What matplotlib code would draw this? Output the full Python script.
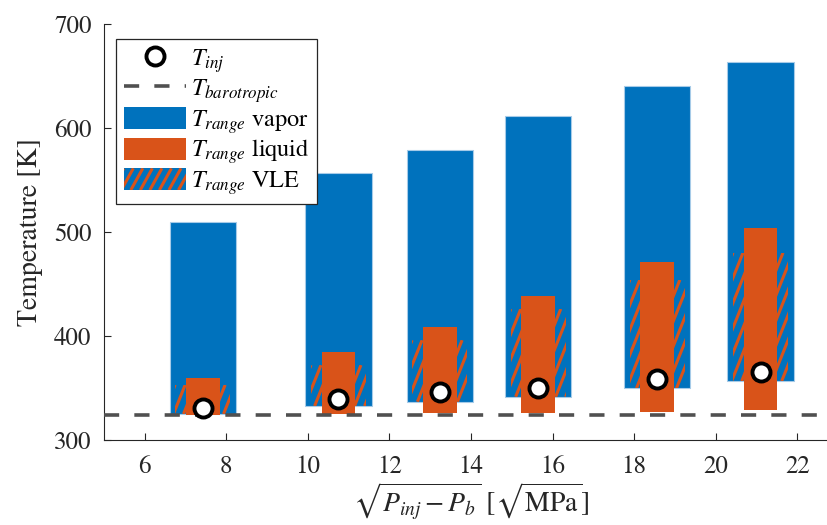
import numpy as np
import matplotlib
matplotlib.use("Agg")
import matplotlib.pyplot as plt
from matplotlib.patches import Rectangle, Patch
from matplotlib.lines import Line2D
from matplotlib.collections import LineCollection
from matplotlib.legend_handler import HandlerBase

plt.rcParams['font.family'] = 'STIXGeneral'
plt.rcParams['mathtext.fontset'] = 'stix'

# sqrt(P_inj - P_b) for each injection case
x_inj = [7.42, 10.75, 13.23, 15.65, 18.57, 21.10]
# injection temperature
T_inj = [331, 339, 346.5, 350, 358.5, 365]
# vapor range
vap_lo = [325, 332.7, 336.8, 341.6, 349.7, 356.7]
vap_hi = [510, 556.4, 578.8, 611.5, 640.4, 663.8]
# liquid range
liq_lo = [324, 325, 326, 326.3, 327.2, 328.8]
liq_hi = [360, 385, 409, 438, 471.5, 503.6]
# VLE range
vle_lo = [325, 332.7, 336.8, 341.6, 349.7, 356.7]
vle_hi = [353, 372, 396, 426, 454, 480]
T_baro = 324

blue = '#0072BD'
orange = '#D95319'
gray = '#505050'

fig = plt.figure(figsize=(8.27, 5.25), dpi=100)
ax = fig.add_axes([104 / 827, 85 / 525, 734 / 827, 416 / 525])
ax.set_xlim(5, 23)
ax.set_ylim(300, 700)

w_vap, w_vle, w_liq = 1.62, 1.35, 0.83

ax.bar(x_inj, np.subtract(vap_hi, vap_lo), bottom=vap_lo, width=w_vap,
       color=blue, edgecolor='#a6cbe8', linewidth=0.8, zorder=1)


def stripe_segments(x0, x1, y0, y1, trans, step=10.0, slope=2.5):
    # steep diagonal stripes, spaced in pixels, returned in data coords
    (X0, Y0), (X1, Y1) = trans.transform([(x0, y0), (x1, y1)])
    h = Y1 - Y0
    segs = []
    c = X0 - h / slope
    while c < X1:
        pts = trans.inverted().transform([(c, Y0), (c + h / slope, Y1)])
        segs.append(pts)
        c += step
    return segs


for xc, lo, hi in zip(x_inj, vle_lo, vle_hi):
    x0, x1 = xc - w_vle / 2, xc + w_vle / 2
    segs = stripe_segments(x0, x1, lo, hi, ax.transData)
    clip = Rectangle((x0, lo), w_vle, hi - lo, transform=ax.transData,
                     facecolor='none', edgecolor='none')
    ax.add_patch(clip)
    lc = LineCollection(segs, colors=orange, linewidths=2.2, zorder=2)
    ax.add_collection(lc)
    lc.set_clip_path(clip)

ax.bar(x_inj, np.subtract(liq_hi, liq_lo), bottom=liq_lo, width=w_liq,
       color=orange, linewidth=0, zorder=3)

ax.axhline(T_baro, color=gray, linewidth=2.6, dashes=(4.2, 4.2), zorder=4)

ax.plot(x_inj, T_inj, 'o', ms=13, mfc='white', mec='black', mew=2.8,
        linestyle='none', zorder=5)

ax.set_xticks(range(6, 23, 2))
ax.set_yticks(range(300, 701, 100))
ax.tick_params(direction='in', length=5, width=0.8, labelsize=18,
               colors='#262626')
ax.tick_params(axis='x', pad=11)
ax.tick_params(axis='y', pad=9)
for s in ['top', 'right']:
    ax.spines[s].set_visible(False)
for s in ['left', 'bottom']:
    ax.spines[s].set_color('#262626')
    ax.spines[s].set_linewidth(0.8)

ax.set_ylabel('Temperature [K]', fontsize=20, color='#262626', labelpad=8)
ax.set_xlabel(r'$\sqrt{P_{inj} - P_b}\ [\sqrt{\mathrm{MPa}}]$', fontsize=20,
              color='#262626', labelpad=1)


class HandlerStripes(HandlerBase):
    def create_artists(self, legend, orig_handle, xdescent, ydescent,
                       width, height, fontsize, trans):
        rect = Rectangle((-xdescent, -ydescent), width, height,
                         facecolor=blue, edgecolor='none', transform=trans)
        segs = []
        step = width / 6.5
        slope = 1.8
        c = -xdescent - height / slope
        while c < width:
            segs.append([(c, -ydescent), (c + height / slope, -ydescent + height)])
            c += step
        lc = LineCollection(segs, colors=orange, linewidths=2.2, transform=trans)
        lc.set_clip_path(rect)
        return [rect, lc]


h_inj = Line2D([], [], marker='o', ms=13, mfc='white', mec='black', mew=2.8,
               linestyle='none')
h_baro = Line2D([], [], color=gray, linewidth=2.6, dashes=(4.2, 4.2))
h_vap = Patch(facecolor=blue, edgecolor='none')
h_liq = Patch(facecolor=orange, edgecolor='none')
h_vle = Patch(facecolor=blue)

leg = ax.legend([h_inj, h_baro, h_vap, h_liq, h_vle],
                [r'$T_{inj}$', r'$T_{barotropic}$', r'$T_{range}$ vapor',
                 r'$T_{range}$ liquid', r'$T_{range}$ VLE'],
                handler_map={h_vle: HandlerStripes()},
                loc='upper left', bbox_to_anchor=(0.017, 0.964),
                borderaxespad=0, fontsize=17.5, handlelength=2.55,
                handleheight=1.0, handletextpad=0.2, labelspacing=0.08,
                borderpad=0.3, fancybox=False, framealpha=1,
                edgecolor='#262626')
leg.get_frame().set_linewidth(0.9)
leg.set_zorder(10)

fig.savefig('out.png', dpi=100)
